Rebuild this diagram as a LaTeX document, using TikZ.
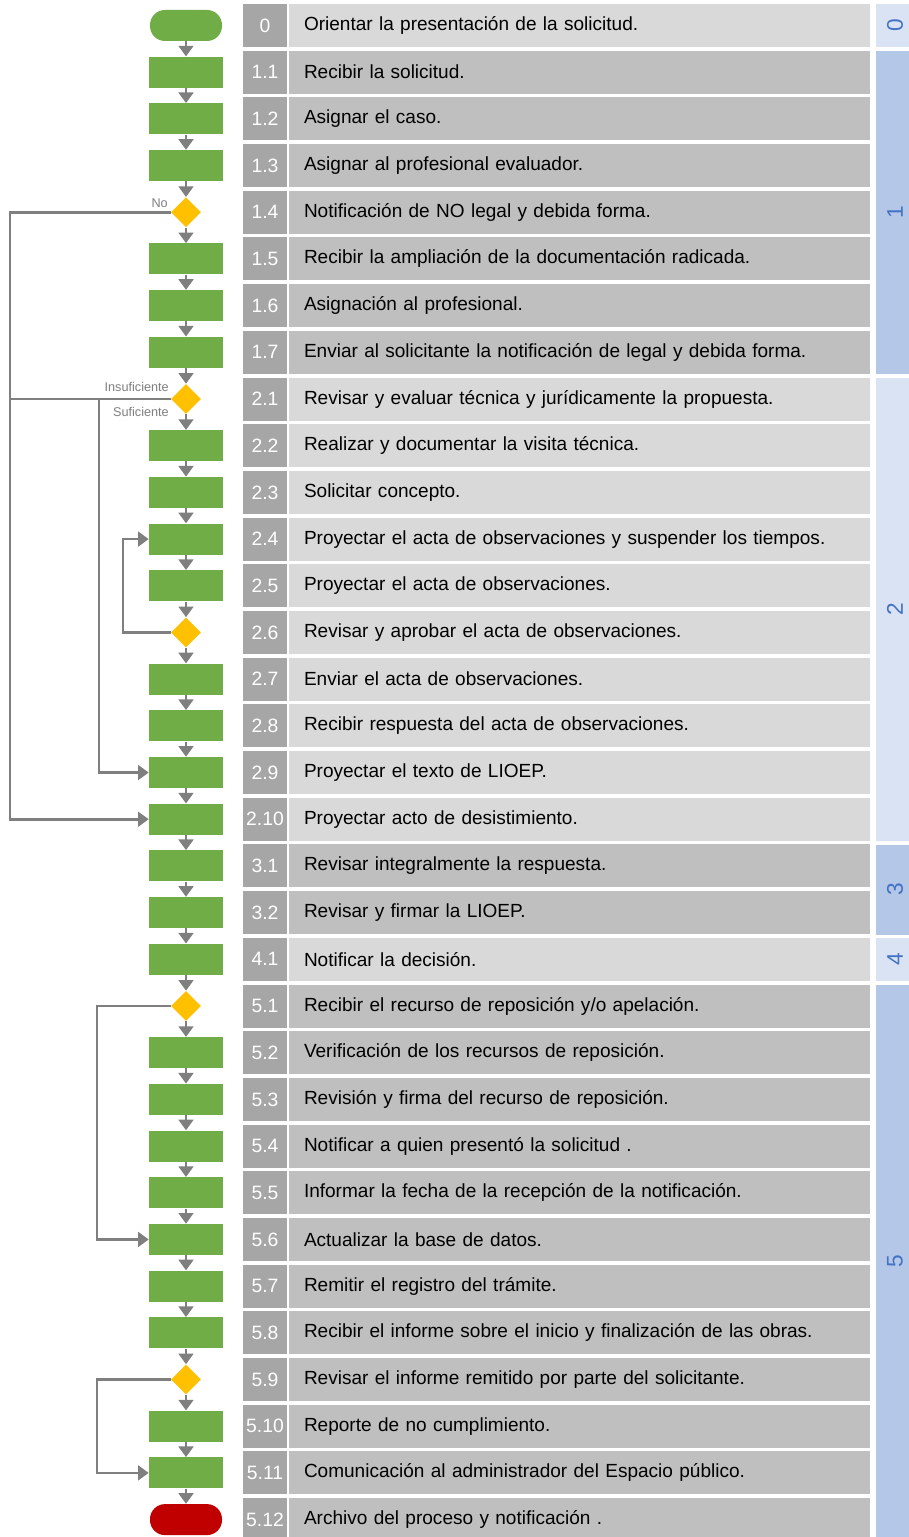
\documentclass[tikz,border=0pt]{standalone}
\usepackage{fontspec}
\setmainfont{Liberation Sans}
\usetikzlibrary{shapes.geometric,arrows.meta}
\definecolor{flowgreen}{HTML}{70AD47}
\definecolor{flowred}{HTML}{C00000}
\definecolor{flowyellow}{HTML}{FFC000}
\definecolor{linegray}{HTML}{7F7F7F}
\definecolor{numgray}{HTML}{A6A6A6}
\definecolor{rowlight}{HTML}{D9D9D9}
\definecolor{rowdark}{HTML}{BFBFBF}
\definecolor{phaselight}{HTML}{DAE3F3}
\definecolor{phasedark}{HTML}{B4C7E7}
\definecolor{phasetext}{HTML}{4472C4}
\newcommand\mkrow[4]{%
  \pgfmathsetmacro\yy{25.5+#1*46.69}
  \node[numbox] (n#1) at (265,\yy) {#2};
  \node[txtbox,fill=#4] (t#1) at (579.5,\yy) {#3};
}
\begin{document}
\begin{tikzpicture}[x=0.75pt,y=-0.75pt,
  numbox/.style={fill=numgray,text=white,minimum width={44*0.75pt},minimum height={43*0.75pt},inner sep=0pt,font=\fontsize{14.5pt}{16pt}\selectfont},
  txtbox/.style={minimum width={581*0.75pt},text width={551*0.75pt},minimum height={43*0.75pt},inner xsep={15*0.75pt},inner ysep=0pt,align=left,font=\fontsize{14.27pt}{17pt}\selectfont},
  rectbox/.style={fill=flowgreen,minimum width={74*0.75pt},minimum height={31*0.75pt},inner sep=0pt},
  termgreen/.style={fill=flowgreen,rounded corners={15*0.75pt},minimum width={72*0.75pt},minimum height={31*0.75pt},inner sep=0pt},
  termred/.style={fill=flowred,rounded corners={15*0.75pt},minimum width={72*0.75pt},minimum height={31*0.75pt},inner sep=0pt},
  decbox/.style={diamond,aspect=1,fill=flowyellow,minimum width={30*0.75pt},minimum height={30*0.75pt},inner sep=0pt},
  flow/.style={draw=linegray,line width=2pt,-{Triangle[width=11pt,length=8pt]}},
  flowline/.style={draw=linegray,line width=2pt},
  lbl/.style={text=linegray,font=\fontsize{9.5pt}{11pt}\selectfont,inner sep=0pt},
  phasenum/.style={text=phasetext,rotate=90,font=\fontsize{17pt}{19pt}\selectfont,inner sep=0pt}
]
\useasboundingbox[fill=white] (0,0) rectangle (909,1537);

% phase column
\fill[phaselight] (876,4) rectangle (909,47);
\fill[phasedark]  (876,50.7) rectangle (909,374);
\fill[phaselight] (876,377.5) rectangle (909,841);
\fill[phasedark]  (876,844.5) rectangle (909,934.5);
\fill[phaselight] (876,938) rectangle (909,981);
\fill[phasedark]  (876,985) rectangle (909,1537);
\node[phasenum] (p0) at (895,25.5) {0};
\node[phasenum] (p1) at (895,212) {1};
\node[phasenum] (p2) at (895,609) {2};
\node[phasenum] (p3) at (895,889.5) {3};
\node[phasenum] (p4) at (895,959.5) {4};
\node[phasenum] (p5) at (895,1261) {5};

% table rows
\mkrow{0}{0}{Orientar la presentación de la solicitud.}{rowlight}
\mkrow{1}{1.1}{Recibir la solicitud.}{rowdark}
\mkrow{2}{1.2}{Asignar el caso.}{rowdark}
\mkrow{3}{1.3}{Asignar al profesional evaluador.}{rowdark}
\mkrow{4}{1.4}{Notificación de NO legal y debida forma.}{rowdark}
\mkrow{5}{1.5}{Recibir la ampliación de la documentación radicada.}{rowdark}
\mkrow{6}{1.6}{Asignación al profesional.}{rowdark}
\mkrow{7}{1.7}{Enviar al solicitante la notificación de legal y debida forma.}{rowdark}
\mkrow{8}{2.1}{Revisar y evaluar técnica y jurídicamente la propuesta.}{rowlight}
\mkrow{9}{2.2}{Realizar y documentar la visita técnica.}{rowlight}
\mkrow{10}{2.3}{Solicitar concepto.}{rowlight}
\mkrow{11}{2.4}{Proyectar el acta de observaciones y suspender los tiempos.}{rowlight}
\mkrow{12}{2.5}{Proyectar el acta de observaciones.}{rowlight}
\mkrow{13}{2.6}{Revisar y aprobar el acta de observaciones.}{rowlight}
\mkrow{14}{2.7}{Enviar el acta de observaciones.}{rowlight}
\mkrow{15}{2.8}{Recibir respuesta del acta de observaciones.}{rowlight}
\mkrow{16}{2.9}{Proyectar el texto de LIOEP.}{rowlight}
\mkrow{17}{2.10}{Proyectar acto de desistimiento.}{rowlight}
\mkrow{18}{3.1}{Revisar integralmente la respuesta.}{rowdark}
\mkrow{19}{3.2}{Revisar y firmar la LIOEP.}{rowdark}
\mkrow{20}{4.1}{Notificar la decisión.}{rowlight}
\mkrow{21}{5.1}{Recibir el recurso de reposición y/o apelación.}{rowdark}
\mkrow{22}{5.2}{Verificación de los recursos de reposición.}{rowdark}
\mkrow{23}{5.3}{Revisión y firma del recurso de reposición.}{rowdark}
\mkrow{24}{5.4}{Notificar a quien presentó la solicitud .}{rowdark}
\mkrow{25}{5.5}{Informar la fecha de la recepción de la notificación.}{rowdark}
\mkrow{26}{5.6}{Actualizar la base de datos.}{rowdark}
\mkrow{27}{5.7}{Remitir el registro del trámite.}{rowdark}
\mkrow{28}{5.8}{Recibir el informe sobre el inicio y finalización de las obras.}{rowdark}
\mkrow{29}{5.9}{Revisar el informe remitido por parte del solicitante.}{rowdark}
\mkrow{30}{5.10}{Reporte de no cumplimiento.}{rowdark}
\mkrow{31}{5.11}{Comunicación al administrador del Espacio público.}{rowdark}
\mkrow{32}{5.12}{Archivo del proceso y notificación .}{rowdark}

% flowchart shapes
\foreach \i in {0,...,32}{
  \pgfmathsetmacro\yy{25.5+\i*46.69}
  \ifnum\i=0 \node[termgreen] (f\i) at (186,\yy) {};
  \else\ifnum\i=32 \node[termred] (f\i) at (186,\yy) {};
  \else\ifnum\i=4 \node[decbox] (f\i) at (186,\yy) {};
  \else\ifnum\i=8 \node[decbox] (f\i) at (186,\yy) {};
  \else\ifnum\i=13 \node[decbox] (f\i) at (186,\yy) {};
  \else\ifnum\i=21 \node[decbox] (f\i) at (186,\yy) {};
  \else\ifnum\i=29 \node[decbox] (f\i) at (186,\yy) {};
  \else \node[rectbox] (f\i) at (186,\yy) {};
  \fi\fi\fi\fi\fi\fi\fi
}
\foreach \i [evaluate=\i as \j using int(\i+1)] in {0,...,31}{
  \draw[flow] (f\i) -- (f\j);
}

% loop connectors
\coordinate (a1) at (10,{25.5+4*46.69});
\coordinate (a2) at (10,{25.5+17*46.69});
\draw[flow] (f4.west) -- (a1) -- (a2) -- (f17.west);
\coordinate (b1) at (10,{25.5+8*46.69});
\draw[flowline] (f8.west) -- (b1);
\coordinate (b2) at (99,{25.5+8*46.69});
\coordinate (b3) at (99,{25.5+16*46.69});
\draw[flow] (b2) -- (b3) -- (f16.west);
\coordinate (c1) at (123,{25.5+13*46.69});
\coordinate (c2) at (123,{25.5+11*46.69});
\draw[flow] (f13.west) -- (c1) -- (c2) -- (f11.west);
\coordinate (d1) at (97,{25.5+21*46.69});
\coordinate (d2) at (97,{25.5+26*46.69});
\draw[flow] (f21.west) -- (d1) -- (d2) -- (f26.west);
\coordinate (e1) at (97,{25.5+29*46.69});
\coordinate (e2) at (97,{25.5+31*46.69});
\draw[flow] (f29.west) -- (e1) -- (e2) -- (f31.west);

% labels
\node[lbl,anchor=south east] (lno) at (168,208) {No};
\node[lbl,anchor=south east] (lins) at (169,392) {Insuficiente};
\node[lbl,anchor=north east] (lsuf) at (169,407) {Suficiente};
\end{tikzpicture}
\end{document}
